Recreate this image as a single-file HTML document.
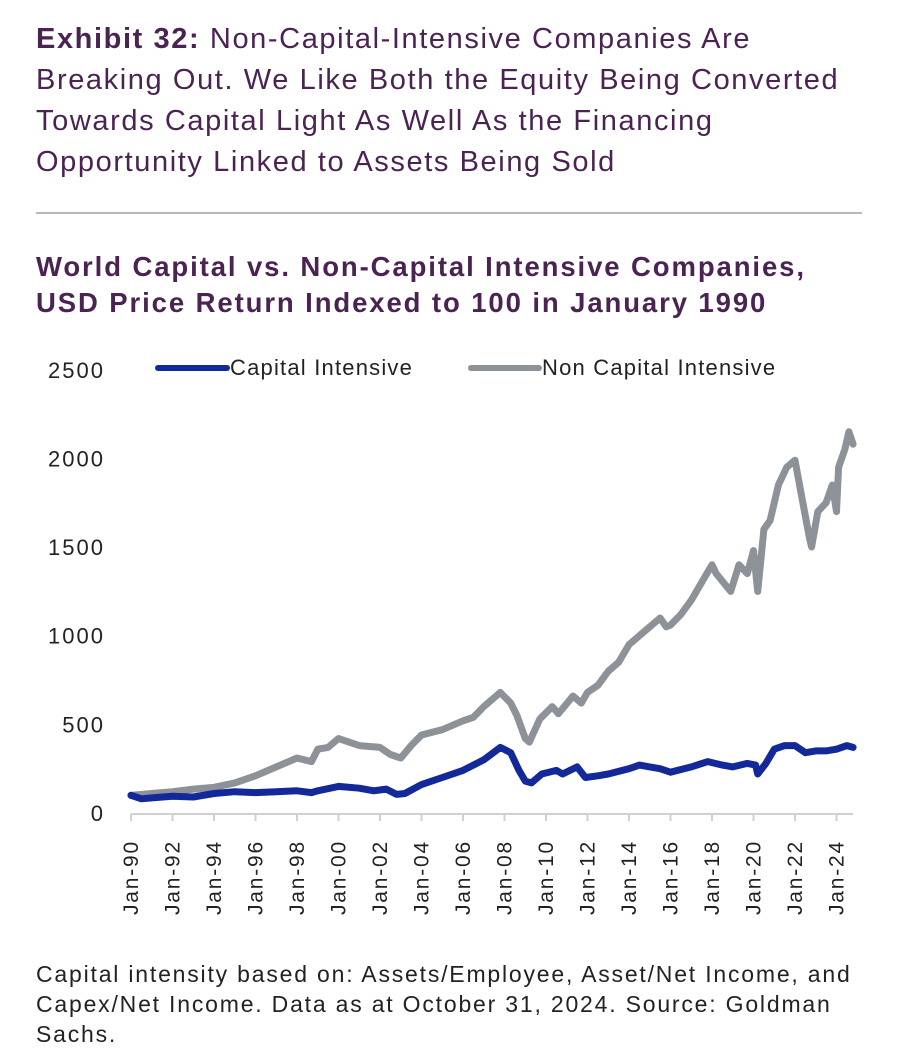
<!DOCTYPE html>
<html><head><meta charset="utf-8">
<style>
body{margin:0;background:#fff;width:903px;height:1052px;overflow:hidden;font-family:"Liberation Sans",sans-serif;}
.t{position:absolute;left:36px;top:19px;font-size:29px;letter-spacing:1.6px;line-height:41px;color:#4b2352;white-space:nowrap;}
.rule{position:absolute;left:36px;top:212px;width:826px;height:2px;background:#b4b9bd;}
.st{position:absolute;left:36px;top:249px;font-size:27.5px;letter-spacing:1.9px;line-height:36px;font-weight:bold;color:#4b2352;white-space:nowrap;}
.note{position:absolute;left:36px;top:959px;font-size:23px;letter-spacing:1.8px;line-height:30px;color:#222;white-space:nowrap;}
</style></head><body>
<div class="t"><b>Exhibit 32:</b> Non-Capital-Intensive Companies Are<br>Breaking Out. We Like Both the Equity Being Converted<br>Towards Capital Light As Well As the Financing<br>Opportunity Linked to Assets Being Sold</div>
<div class="rule"></div>
<div class="st">World Capital vs. Non-Capital Intensive Companies,<br>USD Price Return Indexed to 100 in January 1990</div>
<svg id="c" width="903" height="1052" style="position:absolute;left:0;top:0"></svg>
<div class="note">Capital intensity based on: Assets/Employee, Asset/Net Income, and<br>Capex/Net Income. Data as at October 31, 2024. Source: Goldman<br>Sachs.</div>
<script>
const yTicks=[0,500,1000,1500,2000,2500];
const xTickYears=[1990,1992,1994,1996,1998,2000,2002,2004,2006,2008,2010,2012,2014,2016,2018,2020,2022,2024];
const xTickLabels=["Jan-90","Jan-92","Jan-94","Jan-96","Jan-98","Jan-00","Jan-02","Jan-04","Jan-06","Jan-08","Jan-10","Jan-12","Jan-14","Jan-16","Jan-18","Jan-20","Jan-22","Jan-24"];
const nonCapT=[1990,1991,1992,1993,1994,1995,1996,1997,1998,1998.7,1999,1999.5,2000,2000.5,2001,2002,2002.5,2003,2003.5,2004,2005,2006,2006.5,2007,2007.8,2008.3,2008.6,2009,2009.2,2009.7,2010.3,2010.6,2011.3,2011.7,2012,2012.5,2013,2013.5,2014,2014.5,2015,2015.5,2015.8,2016,2016.5,2017,2017.5,2018,2018.2,2018.9,2019.3,2019.7,2020,2020.2,2020.5,2020.8,2021.2,2021.6,2022,2022.3,2022.7,2022.8,2023.1,2023.5,2023.8,2024,2024.1,2024.4,2024.6,2024.8];
const nonCapV=[100,110,120,135,145,170,210,260,310,290,360,370,420,400,380,370,330,310,380,440,470,520,540,600,680,620,550,420,400,530,600,560,660,620,680,720,800,850,950,1000,1050,1100,1050,1060,1120,1200,1300,1400,1350,1250,1400,1350,1480,1250,1600,1650,1850,1950,1990,1800,1550,1500,1700,1750,1850,1700,1950,2050,2150,2080];
const capT=[1990,1990.5,1991,1992,1993,1994,1995,1996,1997,1998,1998.7,1999,2000,2001,2001.7,2002.3,2002.8,2003.2,2004,2005,2006,2007,2007.8,2008.3,2008.7,2009,2009.3,2009.8,2010.5,2010.8,2011.5,2011.9,2012.5,2013,2014,2014.5,2015,2015.5,2016,2017,2017.8,2018.5,2019,2019.7,2020.1,2020.2,2020.6,2021,2021.5,2022,2022.5,2023,2023.5,2024,2024.5,2024.8];
const capV=[100,80,85,95,90,110,120,115,120,125,115,125,150,140,125,135,105,110,160,200,240,300,370,340,240,180,170,220,240,220,260,200,210,220,250,270,260,250,230,260,290,270,260,280,270,220,280,360,380,380,340,350,350,360,380,370];
const NS="http://www.w3.org/2000/svg";
const svg=document.getElementById('c');
const X=t=>131+(t-1990)*20.75;
const Y=v=>813-v*0.1773;
function mk(tag,at){const e=document.createElementNS(NS,tag);for(const k in at)e.setAttribute(k,at[k]);svg.appendChild(e);return e;}
yTicks.forEach(v=>{const e=mk('text',{x:105,y:Y(v)+8,'text-anchor':'end','font-size':22,'letter-spacing':2,fill:'#222','font-family':'Liberation Sans, sans-serif'});e.textContent=v;

});
const ax=mk('line',{x1:131,y1:814,x2:853,y2:814,stroke:'#d0d0d0','stroke-width':2});


xTickYears.forEach((yr,i)=>{const x=X(yr);
const tk=mk('line',{x1:x,y1:814,x2:x,y2:821,stroke:'#d0d0d0','stroke-width':2});


const e=mk('text',{x:0,y:0,'text-anchor':'end','font-size':21,'letter-spacing':1.8,fill:'#222','font-family':'Liberation Sans, sans-serif',transform:`translate(${x+7},840) rotate(-90)`});e.textContent=xTickLabels[i];

});
function line(T,V,col,name){const d=T.map((t,i)=>(i?'L':'M')+X(t).toFixed(1)+','+Y(V[i]).toFixed(1)).join('');
const p=mk('path',{d,fill:'none',stroke:col,'stroke-width':7,'stroke-linejoin':'round','stroke-linecap':'round'});

}
line(nonCapT,nonCapV,'#8c9298','non-capital-intensive-line');
line(capT,capV,'#13299a','capital-intensive-line');
function leg(x1,x2,col,label,name){const l=mk('line',{x1,y1:368,x2,y2:368,stroke:col,'stroke-width':6,'stroke-linecap':'round'});


const t=mk('text',{x:x2+3,y:375,'font-size':22,'letter-spacing':1.2,fill:'#222','font-family':'Liberation Sans, sans-serif'});t.textContent=label;

}
leg(158,227,'#13299a','Capital Intensive','legend-capital-intensive');
leg(471,539,'#8c9298','Non Capital Intensive','legend-non-capital-intensive');
</script>
</body></html>
